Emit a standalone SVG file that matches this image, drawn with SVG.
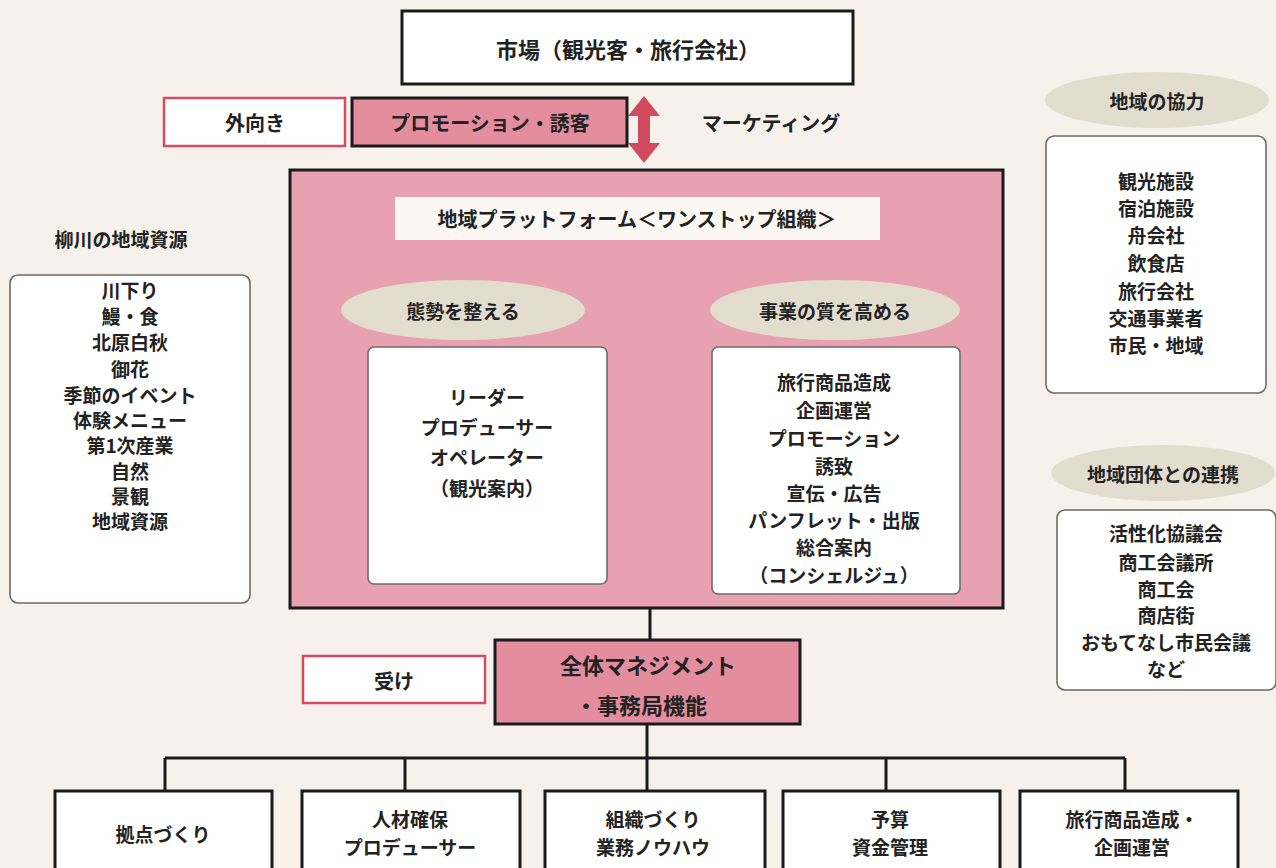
<svg xmlns="http://www.w3.org/2000/svg" width="1276" height="868" viewBox="0 0 1276 868">
<defs>
<style>
text{font-family:"Noto Sans CJK JP","Noto Sans",sans-serif;font-weight:700;fill:#222;text-anchor:middle;dominant-baseline:central}
.t{font-size:20px}
.s{font-size:19px}
.big{font-size:22px}
.box{fill:#fff;stroke:#1a1a1a;stroke-width:3}
.pink{fill:#e38d9f;stroke:#1a1a1a;stroke-width:3}
.red{fill:#fff;stroke:#d64b61;stroke-width:2.5}
.soft{fill:#fff;stroke:#6f6a66;stroke-width:1.6}
.ell{fill:#e3ddd0}
.line{fill:none;stroke:#1a1a1a;stroke-width:3}
</style>
</defs>
<rect x="0" y="0" width="1276" height="868" fill="#f6f2eb"/>

<g id="connectors">
<path class="line" d="M650 608 V640"/>
<path class="line" d="M647 724 V758 M165 758 H1125 M165 758 V791 M405 758 V791 M647 758 V791 M886 758 V791 M1125 758 V791"/>
<path fill="#d24a5e" d="M644 96 L660 116 L650 116 L650 143 L660 143 L644 163 L628 143 L638 143 L638 116 L628 116 Z"/>
</g>

<g id="market">
<rect class="box" x="402" y="11" width="451" height="73"/>
<text class="big" x="628" y="48">市場（観光客・旅行会社）</text>
</g>

<g id="outward">
<rect class="red" x="164" y="98" width="181" height="48"/>
<text class="t" x="255" y="122">外向き</text>
</g>

<g id="promotion">
<rect class="pink" x="352" y="98" width="275" height="48"/>
<text class="t" x="490" y="122">プロモーション・誘客</text>
</g>

<g id="marketing">
<text class="t" x="771" y="122">マーケティング</text>
</g>

<g id="platform">
<rect fill="#e8a1b0" stroke="#1a1a1a" stroke-width="3" x="290" y="170" width="713" height="438"/>
<rect fill="#fbf8f3" x="395" y="197" width="485" height="43"/>
<text class="t" x="637" y="218">地域プラットフォーム＜ワンストップ組織＞</text>
</g>

<g id="posture">
<ellipse class="ell" cx="463" cy="310" rx="122" ry="30"/>
<text class="s" x="463" y="310">態勢を整える</text>
<rect class="soft" x="368" y="347" width="239" height="237" rx="6"/>
<text class="s" x="487" y="396">リーダー</text>
<text class="s" x="487" y="426">プロデューサー</text>
<text class="s" x="487" y="456">オペレーター</text>
<text class="s" x="487" y="487">（観光案内）</text>
</g>

<g id="quality">
<ellipse class="ell" cx="835" cy="310" rx="125" ry="30"/>
<text class="s" x="835" y="310">事業の質を高める</text>
<rect class="soft" x="712" y="347" width="248" height="247" rx="6"/>
<text class="s" x="834" y="381">旅行商品造成</text>
<text class="s" x="834" y="409">企画運営</text>
<text class="s" x="834" y="437">プロモーション</text>
<text class="s" x="834" y="465">誘致</text>
<text class="s" x="834" y="492">宣伝・広告</text>
<text class="s" x="834" y="519">パンフレット・出版</text>
<text class="s" x="834" y="546">総合案内</text>
<text class="s" x="834" y="574">（コンシェルジュ）</text>
</g>

<g id="resources">
<text class="s" x="121" y="238">柳川の地域資源</text>
<rect class="soft" x="10" y="275" width="240" height="328" rx="8"/>
<text class="s" x="130" y="289">川下り</text>
<text class="s" x="130" y="315">鰻・食</text>
<text class="s" x="130" y="341">北原白秋</text>
<text class="s" x="130" y="368">御花</text>
<text class="s" x="130" y="394">季節のイベント</text>
<text class="s" x="130" y="419">体験メニュー</text>
<text class="s" x="130" y="444">第1次産業</text>
<text class="s" x="130" y="470">自然</text>
<text class="s" x="130" y="495">景観</text>
<text class="s" x="130" y="520">地域資源</text>
</g>

<g id="cooperation">
<ellipse class="ell" cx="1157" cy="100" rx="112" ry="28"/>
<text class="s" x="1157" y="100">地域の協力</text>
<rect class="soft" x="1046" y="136" width="220" height="257" rx="8"/>
<text class="s" x="1156" y="180">観光施設</text>
<text class="s" x="1156" y="207">宿泊施設</text>
<text class="s" x="1156" y="234">舟会社</text>
<text class="s" x="1156" y="262">飲食店</text>
<text class="s" x="1156" y="290">旅行会社</text>
<text class="s" x="1156" y="317">交通事業者</text>
<text class="s" x="1156" y="344">市民・地域</text>
</g>

<g id="groups">
<ellipse class="ell" cx="1163" cy="473" rx="112" ry="28"/>
<text class="s" x="1163" y="473">地域団体との連携</text>
<rect class="soft" x="1057" y="510" width="219" height="180" rx="8"/>
<text class="s" x="1166" y="532">活性化協議会</text>
<text class="s" x="1166" y="561">商工会議所</text>
<text class="s" x="1166" y="588">商工会</text>
<text class="s" x="1166" y="614">商店街</text>
<text class="s" x="1166" y="641">おもてなし市民会議</text>
<text class="s" x="1166" y="668">など</text>
</g>

<g id="receive">
<rect class="red" x="303" y="656" width="182" height="47"/>
<text class="t" x="394" y="680">受け</text>
</g>

<g id="management">
<rect class="pink" x="495" y="640" width="305" height="84"/>
<text class="big" x="648" y="664">全体マネジメント</text>
<text class="big" x="641" y="704">・事務局機能</text>
</g>

<g id="base">
<rect class="box" x="55" y="791" width="217" height="90"/>
<text class="s" x="163" y="833">拠点づくり</text>
</g>
<g id="people">
<rect class="box" x="302" y="791" width="218" height="90"/>
<text class="s" x="410" y="818">人材確保</text>
<text class="s" x="410" y="846">プロデューサー</text>
</g>
<g id="organization">
<rect class="box" x="545" y="791" width="220" height="90"/>
<text class="s" x="653" y="818">組織づくり</text>
<text class="s" x="653" y="846">業務ノウハウ</text>
</g>
<g id="budget">
<rect class="box" x="783" y="791" width="217" height="90"/>
<text class="s" x="890" y="818">予算</text>
<text class="s" x="890" y="846">資金管理</text>
</g>
<g id="product">
<rect class="box" x="1020" y="791" width="218" height="90"/>
<text class="s" x="1132" y="818">旅行商品造成・</text>
<text class="s" x="1132" y="846">企画運営</text>
</g>
</svg>
